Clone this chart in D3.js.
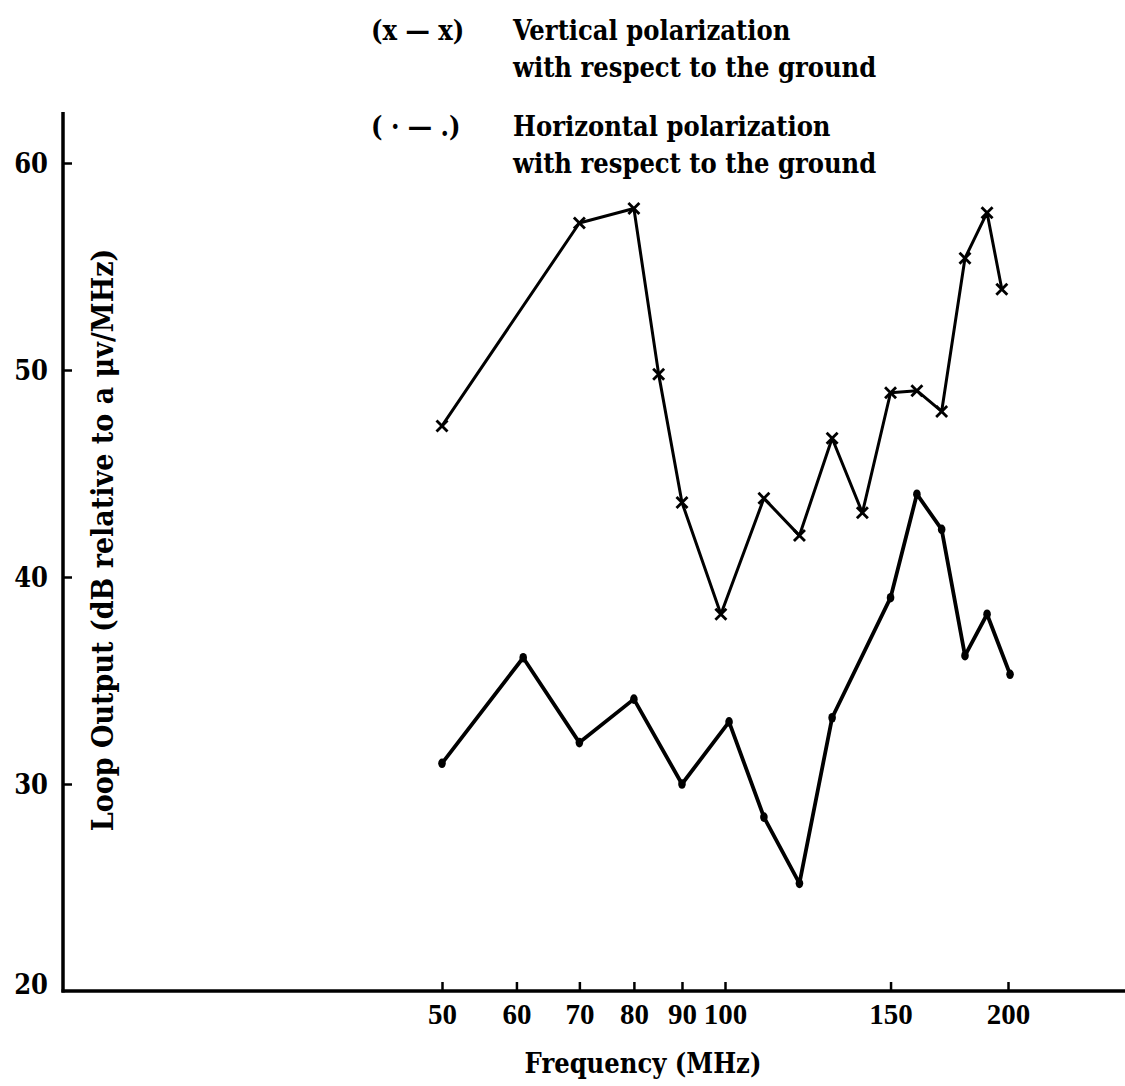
<!DOCTYPE html>
<html>
<head>
<meta charset="utf-8">
<script src="https://cdn.jsdelivr.net/npm/d3@7"></script>
<style>
  html, body { margin: 0; padding: 0; background: #fff; }
  svg { display: block; }
  text { font-family: "DejaVu Serif Condensed", "DejaVu Serif", "Liberation Serif", serif; font-weight: bold; fill: #000; }
</style>
</head>
<body>
<svg id="chart" width="1125" height="1086"></svg>
<script>
// Loop output vs. frequency, two polarizations
const xTicks = [50, 60, 70, 80, 90, 100, 150, 200];
const yTicks = [20, 30, 40, 50, 60];

// Vertical polarization (x markers)
const vertFreq = [50, 70, 80, 85, 90, 99, 110, 120, 130, 140, 150, 160, 170, 180, 190, 197];
const vertVal  = [47.3, 57.1, 57.8, 49.8, 43.6, 38.2, 43.8, 42.0, 46.7, 43.1, 48.9, 49.0, 48.0, 55.4, 57.6, 53.9];

// Horizontal polarization (dot markers)
const horizFreq = [50, 61, 70, 80, 90, 101, 110, 120, 130, 150, 160, 170, 180, 190, 201];
const horizVal  = [31.0, 36.1, 32.0, 34.1, 30.0, 33.0, 28.4, 25.2, 33.2, 39.0, 44.0, 42.3, 36.2, 38.2, 35.3];

const legendItems = [
  { key: "(x \u2014 x)", lines: ["Vertical polarization", "with respect to the ground"] },
  { key: "( \u00b7 \u2014 .)", lines: ["Horizontal polarization", "with respect to the ground"] }
];

const svg = d3.select("#chart");

const x = d3.scaleLog().domain([50, 200]).range([442, 1008]);
const y = d3.scaleLinear().domain([20, 60]).range([991, 163]);

const axisX = 63;
const axisY = y(20);

// axis lines
svg.append("line")
  .attr("x1", axisX).attr("x2", axisX)
  .attr("y1", 112).attr("y2", axisY + 1.5)
  .attr("stroke", "#000").attr("stroke-width", 3.5);
svg.append("line")
  .attr("x1", axisX - 1.5).attr("x2", 1125)
  .attr("y1", axisY).attr("y2", axisY)
  .attr("stroke", "#000").attr("stroke-width", 3.5);

// x axis ticks (pointing up into the plot)
const gx = svg.append("g")
  .attr("transform", `translate(0,${axisY})`)
  .call(d3.axisBottom(x).tickValues(xTicks).tickFormat(d3.format("d"))
        .tickSize(-9).tickSizeOuter(0).tickPadding(12));
gx.select(".domain").remove();
gx.selectAll(".tick line").attr("stroke", "#000").attr("stroke-width", 2.5);
gx.selectAll(".tick text")
  .attr("font-size", 29)
  .style("font-family", "'Liberation Serif', serif")
  .style("font-weight", "bold");

// y axis ticks (pointing right into the plot)
const gy = svg.append("g")
  .attr("transform", `translate(${axisX},0)`)
  .call(d3.axisLeft(y).tickValues(yTicks).tickFormat(d3.format("d"))
        .tickSize(-9).tickSizeOuter(0).tickPadding(15));
gy.select(".domain").remove();
gy.selectAll(".tick line")
  .attr("stroke", "#000").attr("stroke-width", 2.5)
  .attr("display", d => d === 20 ? "none" : null);
gy.selectAll(".tick text")
  .attr("font-size", 27)
  .attr("dy", d => d === 20 ? "0.1em" : "0.36em")
  .style("font-family", "'DejaVu Serif Condensed', 'DejaVu Serif', serif")
  .style("font-weight", "bold");

// axis titles
svg.append("text")
  .attr("x", 643).attr("y", 1073)
  .attr("text-anchor", "middle")
  .attr("font-size", 27)
  .text("Frequency (MHz)");

svg.append("text")
  .attr("transform", "translate(113,540) rotate(-90)")
  .attr("text-anchor", "middle")
  .attr("font-size", 30)
  .text("Loop Output (dB relative to a \u03bcv/MHz)");

// legend
const legendRows = [40, 136];
legendItems.forEach((item, i) => {
  const by = legendRows[i];
  svg.append("text").attr("x", 371).attr("y", by).attr("font-size", 27).text(item.key);
  item.lines.forEach((ln, j) => {
    svg.append("text")
      .attr("x", 513).attr("y", by + j * 37)
      .attr("font-size", 27)
      .text(ln);
  });
});

const line = d3.line().x(d => x(d[0])).y(d => y(d[1]));

const vertData = vertFreq.map((f, i) => [f, vertVal[i]]);
const horizData = horizFreq.map((f, i) => [f, horizVal[i]]);

// horizontal polarization
svg.append("path")
  .datum(horizData)
  .attr("d", line)
  .attr("fill", "none").attr("stroke", "#000")
  .attr("stroke-width", 3.8).attr("stroke-linejoin", "round");
svg.selectAll(".hdot").data(horizData).enter().append("ellipse")
  .attr("class", "hdot")
  .attr("cx", d => x(d[0])).attr("cy", d => y(d[1]))
  .attr("rx", 3.8).attr("ry", 4.8)
  .attr("fill", "#000");

// vertical polarization
svg.append("path")
  .datum(vertData)
  .attr("d", line)
  .attr("fill", "none").attr("stroke", "#000")
  .attr("stroke-width", 3).attr("stroke-linejoin", "round");
const s = 5.5;
const xm = svg.selectAll(".vx").data(vertData).enter().append("g")
  .attr("class", "vx")
  .attr("transform", d => `translate(${x(d[0])},${y(d[1])})`);
xm.append("line").attr("x1", -s).attr("y1", -s).attr("x2", s).attr("y2", s)
  .attr("stroke", "#000").attr("stroke-width", 2.8);
xm.append("line").attr("x1", -s).attr("y1", s).attr("x2", s).attr("y2", -s)
  .attr("stroke", "#000").attr("stroke-width", 2.8);
</script>
</body>
</html>
